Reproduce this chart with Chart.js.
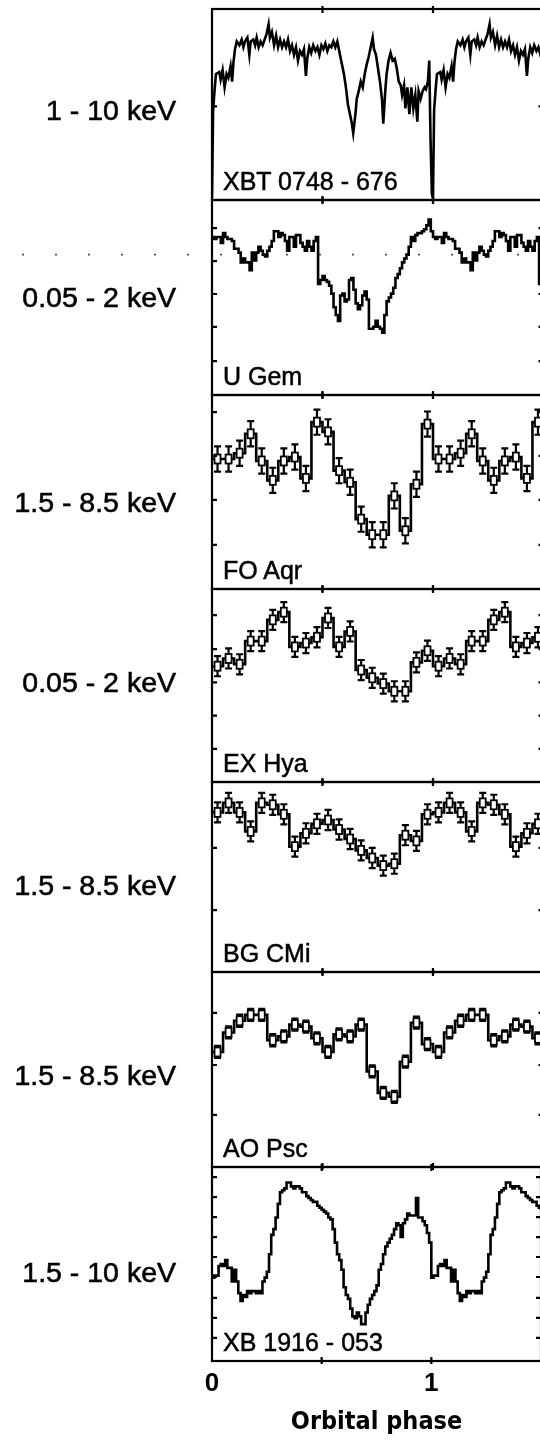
<!DOCTYPE html>
<html>
<head>
<meta charset="utf-8">
<script src="https://cdn.jsdelivr.net/npm/chart.js@4.4.1/dist/chart.umd.min.js"></script>
<style>
  body { margin: 0; width: 540px; height: 1441px; overflow: hidden; background: #fff; position: relative;
         font-family: 'Liberation Sans', Arial, sans-serif; color: #000; }
  canvas { position: absolute; left: 0; }
  .band { position: absolute; right: 364px; font-size: 28.5px; white-space: nowrap; transform: translateY(-50%);
          -webkit-text-stroke: 0.6px #000; }
  .name { position: absolute; left: 223px; font-size: 25px; white-space: nowrap; transform: translateY(-50%); z-index: 2;
          -webkit-text-stroke: 0.5px #000; }
</style>
</head>
<body>
<script>
// energy bands and source names, top to bottom
const bandLabels = ['1 - 10 keV', '0.05 - 2 keV', '1.5 - 8.5 keV', '0.05 - 2 keV', '1.5 - 8.5 keV', '1.5 - 8.5 keV', '1.5 - 10 keV'];
const sourceNames = ['XBT 0748 - 676', 'U Gem', 'FO Aqr', 'EX Hya', 'BG CMi', 'AO Psc', 'XB 1916 - 053'];

// XBT 0748-676: unevenly read points (phase, normalised flux)
const xbtPhase = [0.000,0.005,0.012,0.018,0.033,0.039,0.048,0.057,0.066,0.074,
  0.084,0.091,0.097,0.104,0.112,0.124,0.134,0.142,0.149,0.160,
  0.169,0.175,0.187,0.195,0.202,0.211,0.220,0.229,0.238,0.247,
  0.256,0.262,0.271,0.281,0.290,0.299,0.308,0.317,0.326,0.335,
  0.344,0.353,0.362,0.371,0.380,0.389,0.398,0.407,0.416,0.425,
  0.431,0.440,0.449,0.458,0.468,0.477,0.486,0.495,0.504,0.513,
  0.522,0.531,0.540,0.549,0.558,0.567,0.579,0.588,0.597,0.606,
  0.615,0.624,0.633,0.639,0.649,0.655,0.664,0.673,0.682,0.691,
  0.700,0.709,0.718,0.727,0.733,0.742,0.751,0.760,0.769,0.775,
  0.784,0.790,0.799,0.808,0.817,0.827,0.836,0.845,0.854,0.860,
  0.869,0.875,0.884,0.893,0.902,0.911,0.920,0.929,0.935,0.944,
  0.953,0.962,0.968,0.977,0.983,0.989,0.995];
const xbtFlux = [0.01,0.47,0.58,0.66,0.67,0.63,0.68,0.59,0.66,0.64,
  0.70,0.62,0.72,0.79,0.83,0.81,0.84,0.80,0.83,0.85,
  0.76,0.83,0.84,0.81,0.85,0.80,0.83,0.81,0.84,0.87,
  0.92,0.85,0.88,0.81,0.86,0.80,0.84,0.80,0.83,0.80,
  0.84,0.78,0.81,0.76,0.80,0.73,0.78,0.76,0.79,0.65,
  0.74,0.80,0.77,0.81,0.78,0.80,0.76,0.81,0.79,0.82,
  0.78,0.81,0.80,0.83,0.80,0.83,0.76,0.71,0.66,0.59,
  0.50,0.45,0.40,0.35,0.45,0.53,0.57,0.62,0.59,0.66,
  0.71,0.75,0.80,0.85,0.79,0.76,0.69,0.62,0.53,0.40,
  0.57,0.66,0.73,0.77,0.73,0.74,0.69,0.62,0.60,0.55,
  0.60,0.48,0.59,0.45,0.59,0.48,0.55,0.41,0.57,0.53,
  0.57,0.59,0.58,0.62,0.73,0.31,0.03];

// U Gem, 100 phase bins
const uGemFlux = [0.81,0.80,0.81,0.81,0.78,0.83,0.81,0.80,0.80,0.79,
  0.75,0.75,0.73,0.68,0.70,0.68,0.68,0.64,0.73,0.69,
  0.73,0.76,0.74,0.72,0.71,0.74,0.76,0.79,0.84,0.84,
  0.81,0.83,0.82,0.79,0.74,0.81,0.81,0.76,0.82,0.82,
  0.78,0.76,0.74,0.79,0.76,0.74,0.79,0.81,0.57,0.59,
  0.61,0.59,0.58,0.56,0.52,0.45,0.41,0.38,0.51,0.52,
  0.48,0.49,0.59,0.60,0.54,0.47,0.44,0.46,0.51,0.53,
  0.49,0.34,0.34,0.35,0.38,0.35,0.34,0.32,0.41,0.48,
  0.50,0.52,0.55,0.60,0.62,0.65,0.68,0.70,0.72,0.76,
  0.81,0.79,0.82,0.83,0.83,0.84,0.85,0.87,0.90,0.84];
const uGemLevel = 0.72;   // dotted reference level

// 20-bin folded curves with 1-sigma errors
const foAqrFlux = [0.67,0.67,0.70,0.80,0.66,0.56,0.66,0.68,0.57,0.86,0.81,0.61,0.55,0.36,0.28,0.28,0.48,0.30,0.54,0.85];
const foAqrErr = 0.065;
const exHyaFlux = [0.60,0.64,0.61,0.73,0.73,0.84,0.88,0.70,0.72,0.75,0.85,0.70,0.78,0.58,0.54,0.51,0.47,0.47,0.62,0.68];
const exHyaErr = 0.052;
const bgCMiFlux = [0.84,0.89,0.84,0.74,0.89,0.88,0.83,0.66,0.73,0.78,0.80,0.75,0.70,0.64,0.60,0.56,0.57,0.72,0.69,0.83];
const bgCMiErr = 0.053;
const aoPscFlux = [0.59,0.69,0.75,0.78,0.78,0.65,0.67,0.73,0.72,0.66,0.59,0.68,0.67,0.73,0.49,0.38,0.36,0.54,0.74,0.63];
const aoPscErr = 0.031;

// XB 1916-053, 100 phase bins
const xb1916Flux = [0.43,0.44,0.44,0.49,0.50,0.49,0.52,0.48,0.48,0.41,
  0.47,0.41,0.35,0.31,0.34,0.33,0.36,0.35,0.36,0.36,
  0.35,0.36,0.35,0.41,0.43,0.46,0.55,0.65,0.68,0.74,
  0.81,0.87,0.88,0.89,0.92,0.92,0.90,0.89,0.90,0.90,
  0.89,0.87,0.87,0.85,0.84,0.83,0.82,0.82,0.80,0.79,
  0.78,0.77,0.76,0.74,0.73,0.68,0.61,0.55,0.52,0.47,
  0.38,0.34,0.32,0.27,0.23,0.22,0.25,0.23,0.19,0.19,
  0.25,0.29,0.32,0.34,0.36,0.39,0.47,0.50,0.55,0.59,
  0.61,0.63,0.65,0.68,0.71,0.70,0.64,0.71,0.73,0.76,
  0.75,0.75,0.75,0.84,0.74,0.74,0.72,0.70,0.66,0.61];

// inner tick positions on the y axes (normalised flux)
const yTicks = [
  [0.49],
  [0.856, 0.687, 0.518, 0.349, 0.174],
  [0.912, 0.686, 0.459, 0.227],
  [0.865, 0.688, 0.516, 0.344, 0.172],
  [0.653, 0.326],
  [0.79, 0.523, 0.267],
  [0.948, 0.845, 0.742, 0.639, 0.536, 0.433, 0.325, 0.222, 0.119]
];
const xTicks = [0.5, 1];

// layout
const panelEdges = [9, 200, 395, 589, 782, 972, 1167, 1361];
const bandY = [110, 297, 502, 682, 885, 1075, 1272];
const CANVAS_W = 548;

function binCentres(n) {
  const c = [];
  for (let i = 0; i < n; i++) c.push((i + 0.5) / n);
  return c;
}

// folded light curve plotted over two cycles
function twoCycles(phase, flux) {
  const pts = [];
  for (let c = 0; c < 2; c++) {
    phase.forEach((p, i) => pts.push({ x: p + c, y: flux[i], bin: true }));
  }
  return pts;
}

function steppedSeries(flux) {
  const pts = twoCycles(binCentres(flux.length), flux);
  pts.unshift({ x: 0, y: flux[0], bin: false });
  return pts;
}

const framePlugin = {
  id: 'frame',
  afterDraw(chart, args, opts) {
    const { ctx, chartArea: a, scales: { x, y } } = chart;
    ctx.save();
    ctx.strokeStyle = '#000';
    ctx.lineWidth = 2.2;
    ctx.strokeRect(a.left, a.top, a.right - a.left, a.bottom - a.top);
    ctx.beginPath();
    (opts.xTicks || []).forEach(v => {
      const px = x.getPixelForValue(v);
      ctx.moveTo(px, a.top - 3); ctx.lineTo(px, a.top + 4);
      ctx.moveTo(px, a.bottom - 4); ctx.lineTo(px, a.bottom + 3);
    });
    (opts.yTicks || []).forEach(v => {
      const py = y.getPixelForValue(v);
      ctx.moveTo(a.left, py); ctx.lineTo(a.left + 5, py);
      ctx.moveTo(a.right, py); ctx.lineTo(a.right - 5, py);
    });
    ctx.stroke();
    ctx.restore();
  }
};

const errorBarPlugin = {
  id: 'errorBars',
  afterDatasetsDraw(chart, args, opts) {
    if (!opts.err) return;
    const { ctx, chartArea: a, scales: { y } } = chart;
    const meta = chart.getDatasetMeta(0);
    const data = chart.data.datasets[0].data;
    ctx.save();
    ctx.beginPath();
    ctx.rect(a.left, a.top - 2, a.right - a.left, a.bottom - a.top + 4);
    ctx.clip();
    ctx.strokeStyle = '#000';
    ctx.fillStyle = '#fff';
    meta.data.forEach((pt, i) => {
      const d = data[i];
      if (!d.bin || pt.x > a.right + 4) return;
      const yt = y.getPixelForValue(d.y + opts.err);
      const yb = y.getPixelForValue(d.y - opts.err);
      ctx.lineWidth = 2.2;
      ctx.beginPath();
      ctx.moveTo(pt.x, yt); ctx.lineTo(pt.x, yb);
      ctx.moveTo(pt.x - 3.5, yt); ctx.lineTo(pt.x + 3.5, yt);
      ctx.moveTo(pt.x - 3.5, yb); ctx.lineTo(pt.x + 3.5, yb);
      ctx.stroke();
      ctx.lineWidth = 1.8;
      ctx.fillRect(pt.x - 3, pt.y - 4.5, 6, 9);
      ctx.strokeRect(pt.x - 3, pt.y - 4.5, 6, 9);
    });
    ctx.restore();
  }
};

const refLinePlugin = {
  id: 'refLine',
  beforeDatasetsDraw(chart, args, opts) {
    if (opts.value == null) return;
    const { ctx, chartArea: a, scales: { y } } = chart;
    const py = y.getPixelForValue(opts.value);
    ctx.save();
    ctx.strokeStyle = '#555';
    ctx.lineWidth = 1.6;
    ctx.setLineDash([2, 31]);
    ctx.beginPath();
    ctx.moveTo(opts.fromX, py);
    ctx.lineTo(a.right, py);
    ctx.stroke();
    ctx.restore();
  }
};

function lineSet(points, stepped) {
  return {
    data: points,
    borderColor: '#000',
    borderWidth: 2.6,
    pointRadius: 0,
    fill: false,
    tension: 0,
    stepped: stepped
  };
}

function makePanel(i, dataset, extra) {
  const isBottom = i === panelEdges.length - 2;
  const cTop = panelEdges[i] - 4;
  const cBottom = isBottom ? 1441 : panelEdges[i + 1] + 4;
  const canvas = document.createElement('canvas');
  canvas.width = CANVAS_W;
  canvas.height = cBottom - cTop;
  canvas.style.top = cTop + 'px';
  document.body.appendChild(canvas);

  const xScale = { type: 'linear', min: 0, max: 1.5, display: false };
  if (isBottom) {
    Object.assign(xScale, {
      display: true,
      position: 'bottom',
      grid: { display: false, drawTicks: false },
      border: { display: false },
      ticks: {
        stepSize: 0.5, autoSkip: false, maxRotation: 0, padding: 7, color: '#000',
        font: { family: 'Liberation Sans', size: 26, weight: 'bold' },
        callback: v => Number.isInteger(v) ? String(v) : ''
      },
      title: {
        display: true, text: 'Orbital phase', color: '#000',
        font: { family: 'DejaVu Sans Condensed', size: 25, weight: 'bold' },
        padding: { top: 4, bottom: 4 }
      },
      afterFit: s => { s.height = 80; }
    });
  }

  new Chart(canvas, {
    type: 'line',
    data: { datasets: [dataset] },
    options: {
      responsive: false,
      animation: false,
      events: [],
      layout: { padding: { left: 212, right: CANVAS_W - 543.5, top: 4, bottom: isBottom ? 0 : 4 } },
      scales: {
        x: xScale,
        y: { min: 0, max: 1, display: false }
      },
      plugins: {
        legend: { display: false },
        tooltip: { enabled: false },
        frame: { xTicks: xTicks, yTicks: yTicks[i] },
        errorBars: { err: extra.err || 0 },
        refLine: { value: extra.level, fromX: 22 }
      }
    },
    plugins: [refLinePlugin, errorBarPlugin, framePlugin]
  });

  const band = document.createElement('div');
  band.className = 'band';
  band.style.top = bandY[i] + 'px';
  band.textContent = bandLabels[i];
  document.body.appendChild(band);

  const name = document.createElement('div');
  name.className = 'name';
  name.style.top = (panelEdges[i + 1] - 19) + 'px';
  name.textContent = sourceNames[i];
  document.body.appendChild(name);
}

makePanel(0, lineSet(twoCycles(xbtPhase, xbtFlux), false), {});
makePanel(1, lineSet(steppedSeries(uGemFlux), 'middle'), { level: uGemLevel });
makePanel(2, lineSet(steppedSeries(foAqrFlux), 'middle'), { err: foAqrErr });
makePanel(3, lineSet(steppedSeries(exHyaFlux), 'middle'), { err: exHyaErr });
makePanel(4, lineSet(steppedSeries(bgCMiFlux), 'middle'), { err: bgCMiErr });
makePanel(5, lineSet(steppedSeries(aoPscFlux), 'middle'), { err: aoPscErr });
makePanel(6, lineSet(steppedSeries(xb1916Flux), 'middle'), {});
</script>
</body>
</html>
